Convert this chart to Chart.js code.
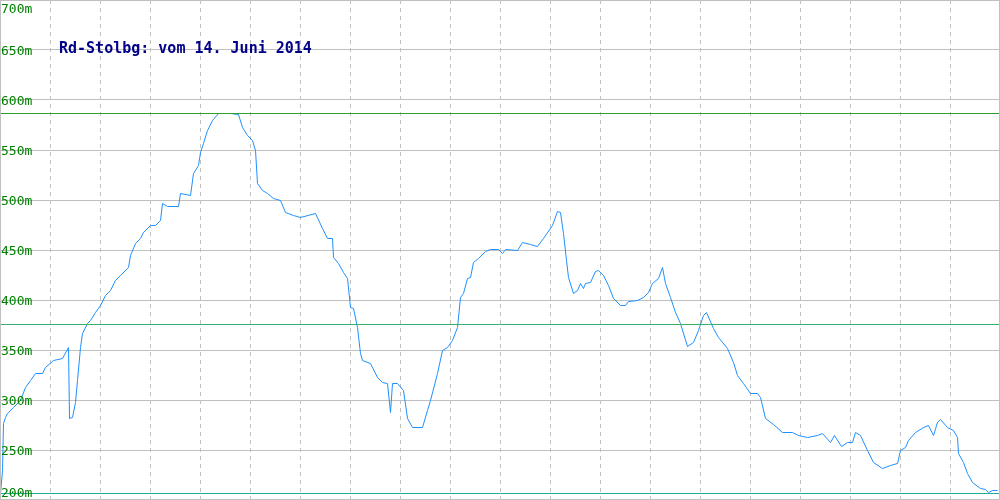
<!DOCTYPE html>
<html lang="de">
<head>
<meta charset="UTF-8">
<title>Rd-Stolbg Höhenprofil</title>
<script src="https://cdn.jsdelivr.net/npm/chart.js"></script>
<style>
  html, body { margin: 0; padding: 0; background: #ffffff; }
  canvas { display: block; }
</style>
</head>
<body>
<canvas id="profil" width="1000" height="500"></canvas>
<script>
// Profile data (position along track, elevation in m)
const positions = [0, 2, 3, 5, 7, 13, 20, 25, 30, 35, 42, 45, 53, 62, 68, 69, 72, 75, 77, 80, 82, 87, 90, 95, 100,
  105, 110, 115, 120, 128, 130, 135, 140, 143, 150, 155, 160, 162, 167, 178, 180, 190, 193, 198, 200,
  203, 207, 212, 218, 230, 238, 242, 247, 252, 255, 257, 262, 267, 273, 280, 285, 293, 300, 315, 322,
  327, 332, 333, 338, 343, 347, 350, 353, 357, 360, 362, 370, 377, 382, 387, 390, 392, 397, 403, 407,
  412, 422, 427, 430, 437, 442, 447, 452, 457, 460, 463, 467, 470, 473, 478, 485, 490, 498, 502, 505,
  517, 522, 530, 537, 543, 552, 557, 560, 563, 566, 568, 573, 577, 580, 583, 585, 590, 595, 598, 603,
  608, 613, 620, 625, 628, 637, 643, 648, 652, 658, 662, 665, 670, 675, 680, 687, 693, 698, 703, 706,
  713, 718, 727, 733, 737, 743, 750, 757, 760, 765, 773, 782, 792, 798, 807, 817, 822, 830, 834, 841,
  847, 852, 855, 860, 867, 873, 882, 890, 897, 900, 905, 908, 915, 923, 928, 933, 937, 940, 947, 953,
  957, 958, 963, 967, 972, 980, 985, 988, 992, 997];
const elevations = [207, 230, 277, 283, 287, 293, 300, 313, 320, 327, 327, 333, 340, 342, 353, 282, 283, 298, 320, 353, 367, 377, 380, 388, 395,
  405, 410, 420, 425, 433, 445, 457, 462, 468, 475, 475, 480, 497, 494, 494, 507, 505, 527, 535, 548,
  557, 570, 580, 587, 587, 586, 573, 565, 560, 550, 517, 510, 507, 502, 500, 488, 485, 483, 487, 472,
  462, 462, 443, 437, 428, 422, 393, 392, 373, 347, 340, 337, 323, 318, 317, 288, 317, 317, 310, 282,
  273, 273, 290, 300, 327, 350, 353, 360, 373, 403, 407, 422, 423, 438, 442, 449, 451, 451, 447, 451,
  450, 458, 456, 454, 462, 475, 489, 488, 467, 440, 423, 407, 410, 417, 412, 417, 418, 429, 430, 425,
  415, 402, 395, 395, 399, 400, 403, 408, 417, 422, 433, 417, 403, 388, 377, 354, 358, 370, 385, 388,
  372, 363, 352, 338, 325, 317, 307, 307, 303, 282, 276, 268, 268, 265, 263, 265, 267, 258, 265, 254,
  258, 258, 268, 265, 250, 238, 232, 235, 237, 250, 253, 260, 268, 273, 275, 265, 278, 281, 273, 270,
  263, 247, 238, 227, 218, 212, 211, 208, 210, 210];

// reference lines: maximum, average, minimum elevation
const maxElevation = 587;
const meanElevation = 376;
const minElevation = 207;

const yTicks = [200, 250, 300, 350, 400, 450, 500, 550, 600, 650, 700];
const chartTitle = 'Rd-Stolbg: vom 14. Juni 2014';

const trackStart = 0;
const trackEnd = 1000;

function flatLine(v) {
  return [{ x: trackStart, y: v }, { x: trackEnd, y: v }];
}

// shift the lines half a pixel so 1px strokes land on whole pixels
const crispPlugin = {
  id: 'crisp',
  beforeDatasetsDraw(chart) {
    chart.ctx.save();
    chart.ctx.translate(0.5, 0.5);
  },
  afterDatasetsDraw(chart) {
    chart.ctx.restore();
  }
};

// draws the frame, the y labels (inside the plot) and the title text
const overlayPlugin = {
  id: 'overlay',
  afterDraw(chart) {
    const ctx = chart.ctx;
    const area = chart.chartArea;
    const yScale = chart.scales.y;
    ctx.save();
    ctx.strokeStyle = '#c0c0c0';
    ctx.lineWidth = 1;
    ctx.setLineDash([]);
    ctx.strokeRect(area.left + 0.5, area.top + 0.5, area.right - area.left - 1, area.bottom - area.top - 1);

    ctx.fillStyle = '#008000';
    ctx.font = '13px "DejaVu Sans Mono", monospace';
    ctx.textAlign = 'left';
    ctx.textBaseline = 'alphabetic';
    yTicks.forEach(v => {
      let py = yScale.getPixelForValue(v) + 5;
      py = Math.min(Math.max(py, area.top + 13), area.bottom - 3);
      ctx.fillText(v + 'm', area.left + 1, py);
    });

    ctx.fillStyle = '#000088';
    ctx.font = 'bold 15px "DejaVu Sans Mono", monospace';
    ctx.fillText(chartTitle, area.left + 59, 53);
    ctx.restore();
  }
};

new Chart(document.getElementById('profil'), {
  type: 'line',
  data: {
    datasets: [
      {
        label: 'Maximum',
        data: flatLine(maxElevation),
        borderColor: '#2ca02c',
        borderWidth: 1,
        pointRadius: 0
      },
      {
        label: 'Mittel',
        data: flatLine(meanElevation),
        borderColor: '#36b06c',
        borderWidth: 1,
        pointRadius: 0
      },
      {
        label: 'Minimum',
        data: flatLine(minElevation),
        borderColor: '#20ab9a',
        borderWidth: 1,
        pointRadius: 0
      },
      {
        label: 'Höhe',
        data: positions.map((p, i) => ({ x: p, y: elevations[i] })),
        borderColor: '#1e90ff',
        borderWidth: 1,
        pointRadius: 0,
        tension: 0
      }
    ]
  },
  options: {
    responsive: false,
    animation: false,
    layout: { padding: 0 },
    plugins: {
      legend: { display: false },
      title: { display: false },
      tooltip: { enabled: false }
    },
    scales: {
      x: {
        type: 'linear',
        min: trackStart,
        max: trackEnd,
        ticks: { display: false, stepSize: 50 },
        grid: { color: '#c0c0c0', drawTicks: false, lineWidth: 1 },
        border: { display: false, dash: [4, 4] }
      },
      y: {
        min: 200,
        max: 700,
        ticks: { display: false, stepSize: 50 },
        grid: { color: '#c0c0c0', drawTicks: false, lineWidth: 1 },
        border: { display: false }
      }
    }
  },
  plugins: [crispPlugin, overlayPlugin]
});
</script>
</body>
</html>
